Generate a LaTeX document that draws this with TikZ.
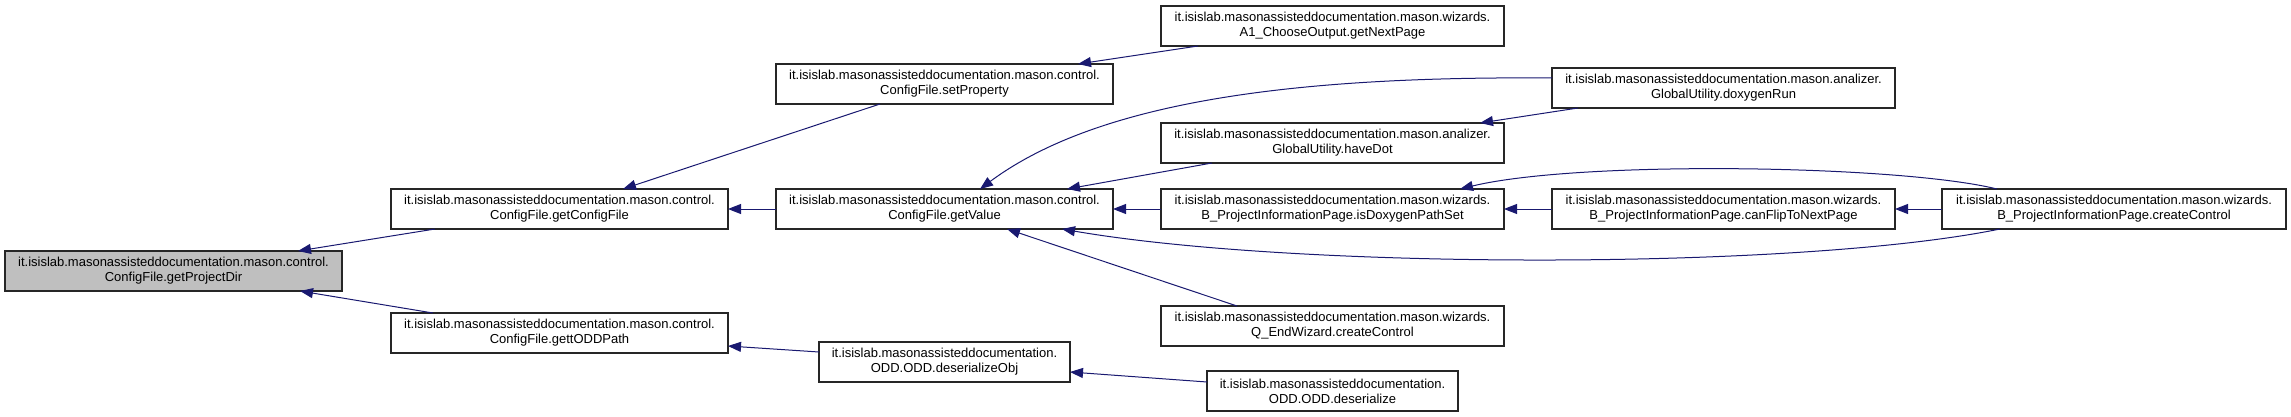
\documentclass[tikz,border=0pt]{standalone}
\usepackage{fontspec}
\setmainfont{Liberation Sans}
\usetikzlibrary{arrows.meta,calc}
\definecolor{edgeblue}{HTML}{191970}
\definecolor{nodegray}{HTML}{BFBFBF}
\begin{document}
\begin{tikzpicture}[x=1pt,y=-1pt,
  fn/.style={draw=black!85, line width=1.2pt, fill=white, rectangle, minimum height=40pt,
    minimum width=343pt, inner sep=0pt, outer sep=0pt, align=center,
    font=\fontsize{13}{15}\selectfont},
  narrow/.style={minimum width=337pt},
  small/.style={minimum width=251pt},
  cur/.style={fill=nodegray},
  edge/.style={draw=edgeblue, line width=1pt, -{Triangle[length=13pt,width=10pt]}}
]
\useasboundingbox (0,0) rectangle (2291,417);

\node[fn,narrow,cur] (pd) at (173.5,271) {it.isislab.masonassisteddocumentation.mason.control.\\ConfigFile.getProjectDir};
\node[fn,narrow] (cf) at (559.5,209) {it.isislab.masonassisteddocumentation.mason.control.\\ConfigFile.getConfigFile};
\node[fn,narrow] (odp) at (559.5,333) {it.isislab.masonassisteddocumentation.mason.control.\\ConfigFile.gettODDPath};
\node[fn,narrow] (sp) at (944.5,84) {it.isislab.masonassisteddocumentation.mason.control.\\ConfigFile.setProperty};
\node[fn,narrow] (gv) at (944.5,209) {it.isislab.masonassisteddocumentation.mason.control.\\ConfigFile.getValue};
\node[fn,small] (dso) at (944.5,362) {it.isislab.masonassisteddocumentation.\\ODD.ODD.deserializeObj};
\node[fn] (a1) at (1332.5,26) {it.isislab.masonassisteddocumentation.mason.wizards.\\A1\_ChooseOutput.getNextPage};
\node[fn] (hd) at (1332.5,143) {it.isislab.masonassisteddocumentation.mason.analizer.\\GlobalUtility.haveDot};
\node[fn] (ids) at (1332.5,209) {it.isislab.masonassisteddocumentation.mason.wizards.\\B\_ProjectInformationPage.isDoxygenPathSet};
\node[fn] (qe) at (1332.5,326) {it.isislab.masonassisteddocumentation.mason.wizards.\\Q\_EndWizard.createControl};
\node[fn,small] (ds) at (1332.5,391) {it.isislab.masonassisteddocumentation.\\ODD.ODD.deserialize};
\node[fn] (dr) at (1723.5,88) {it.isislab.masonassisteddocumentation.mason.analizer.\\GlobalUtility.doxygenRun};
\node[fn] (cfn) at (1723.5,209) {it.isislab.masonassisteddocumentation.mason.wizards.\\B\_ProjectInformationPage.canFlipToNextPage};
\node[fn,minimum width=344pt] (cc) at (2114,209) {it.isislab.masonassisteddocumentation.mason.wizards.\\B\_ProjectInformationPage.createControl};

\draw[edge] ($(cf.south west)+(44,0)$) -- ($(pd.north west)+(293,0)$);
\draw[edge] ($(odp.north west)+(42,0)$) -- ($(pd.south west)+(295,0)$);
\draw[edge] ($(sp.south west)+(104,0)$) -- ($(cf.north west)+(232,0)$);
\draw[edge] (gv.west) -- (cf.east);
\draw[edge] ($(a1.south west)+(37,0)$) -- ($(sp.north west)+(302,0)$);
\draw[edge] ($(dr.west)+(0,-10)$) .. controls +(-252,-2) and +(120,-89) .. ($(gv.north west)+(204,0)$);
\draw[edge] ($(hd.south west)+(51,0)$) -- ($(gv.north west)+(291,0)$);
\draw[edge] ($(dr.south west)+(26,0)$) -- ($(hd.north west)+(319,0)$);
\draw[edge] (ids.west) -- (gv.east);
\draw[edge] ($(cc.south west)+(58,0)$) .. controls +(-200,41) and +(238,41) .. ($(gv.south west)+(286,0)$);
\draw[edge] ($(qe.north west)+(76,0)$) -- ($(gv.south west)+(231,0)$);
\draw[edge] (cfn.west) -- (ids.east);
\draw[edge] ($(cc.north west)+(55,0)$) .. controls +(-97,-24) and +(120,-29) .. ($(ids.north west)+(299,0)$);
\draw[edge] (cc.west) -- (cfn.east);
\draw[edge] ($(dso.west)+(0,-10)$) -- ($(odp.east)+(0,13)$);
\draw[edge] ($(ds.west)+(0,-9)$) -- ($(dso.east)+(0,10)$);
\end{tikzpicture}
\end{document}
